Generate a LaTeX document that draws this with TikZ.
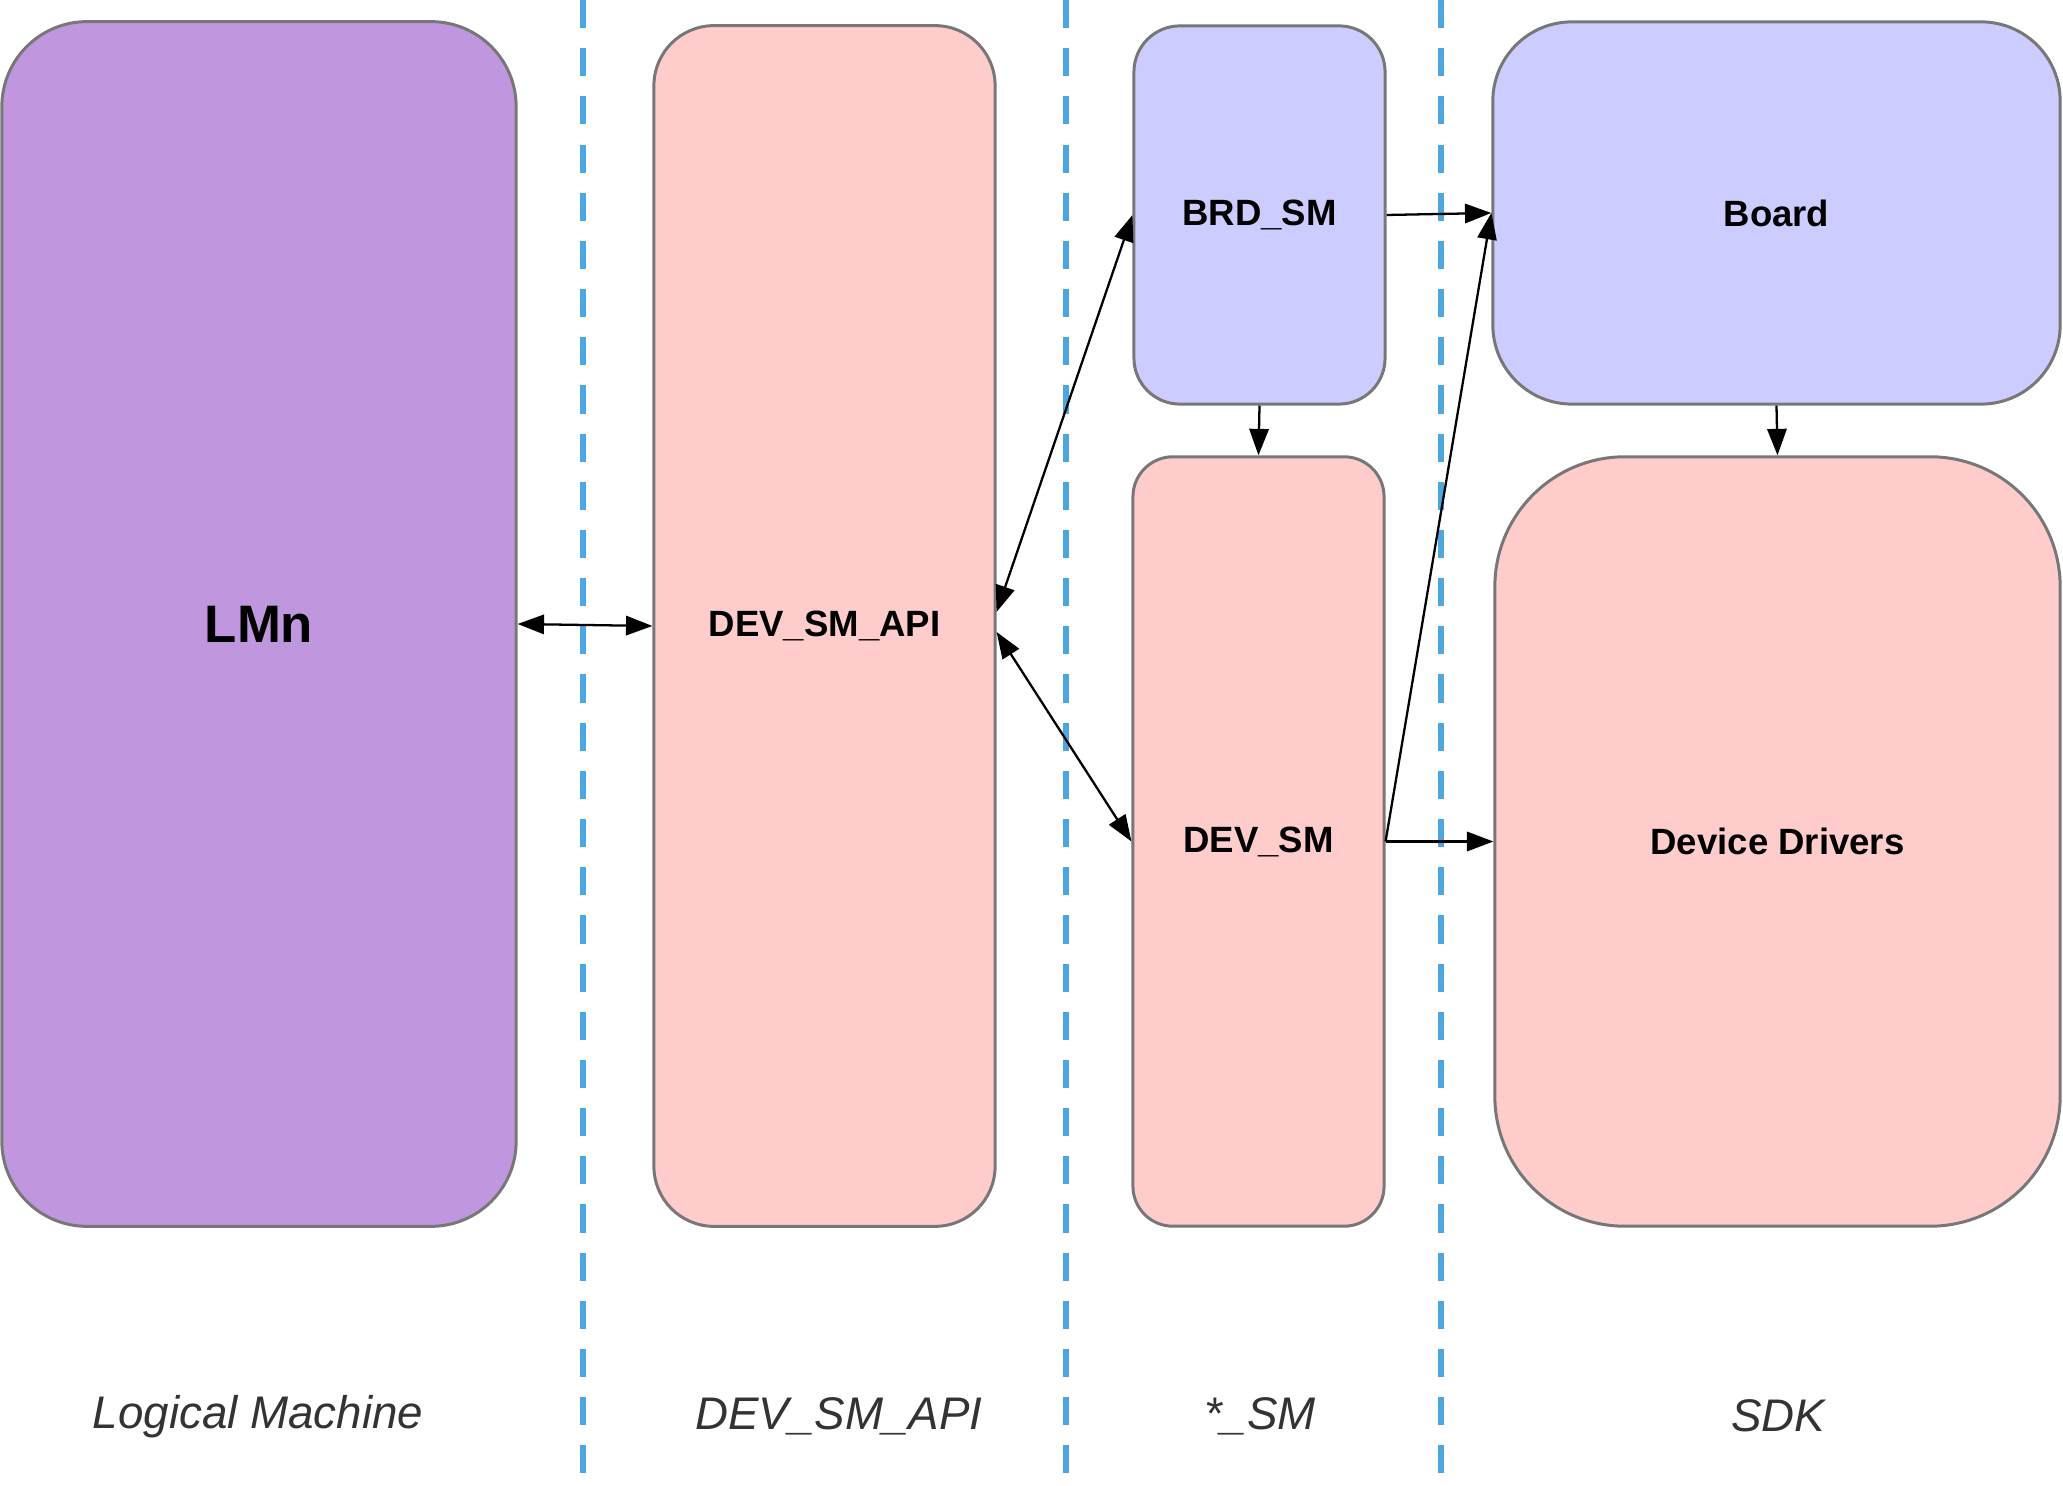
\documentclass[tikz,border=0pt]{standalone}
\usepackage{fontspec}
\setmainfont{Liberation Sans}
\usetikzlibrary{arrows.meta}
\definecolor{lmpurple}{RGB}{192,151,222}
\definecolor{smpink}{RGB}{255,204,204}
\definecolor{smblue}{RGB}{204,204,255}
\definecolor{edgegray}{RGB}{119,119,119}
\definecolor{sepblue}{RGB}{77,166,223}
\definecolor{labelgray}{RGB}{51,51,51}
\begin{document}
\begin{tikzpicture}[x=0.01cm, y=-0.01cm,
  block/.style={draw=edgegray, line width=0.85pt, shape=rectangle, inner sep=0pt,
    align=center, font=\bfseries\fontsize{10.4}{12}\selectfont},
  link/.style={line width=0.65pt, -{Triangle[length=7.5pt,width=5.5pt]}},
  both/.style={line width=0.65pt, {Triangle[length=7.5pt,width=5.5pt]}-{Triangle[length=7.5pt,width=5.5pt]}},
  sep/.style={sepblue, line width=1.6pt, dash pattern=on 8pt off 5.7pt},
  layer/.style={font=\itshape\fontsize{13}{15}\selectfont, text=labelgray}]
\useasboundingbox (0,0) rectangle (2063,1486);

% layer separators
\draw[sep] (583,0) -- (583,1486);
\draw[sep] (1066,0) -- (1066,1486);
\draw[sep] (1441,0) -- (1441,1486);

\node (lmn) [block, fill=lmpurple, minimum width=5.14cm, minimum height=12.04cm,
  rounded corners=0.85cm, font=\bfseries\fontsize{15}{18}\selectfont] at (259,624) {LMn};
\node (api) [block, fill=smpink, minimum width=3.41cm, minimum height=12.00cm,
  rounded corners=0.6cm] at (824.5,626) {DEV\_SM\_API};
\node (brdsm) [block, fill=smblue, minimum width=2.51cm, minimum height=3.78cm,
  rounded corners=0.46cm] at (1259.5,215) {BRD\_SM};
\node (devsm) [block, fill=smpink, minimum width=2.51cm, minimum height=7.69cm,
  rounded corners=0.4cm] at (1258.5,841.5) {DEV\_SM};
\node (board) [block, fill=smblue, minimum width=5.67cm, minimum height=3.82cm,
  rounded corners=0.79cm] at (1776.5,213) {Board};
\node (drivers) [block, fill=smpink, minimum width=5.65cm, minimum height=7.69cm,
  rounded corners=1.3cm] at (1777.5,841.5) {Device Drivers};

\node (lmlabel) [layer] at (258,1417) {Logical Machine};
\node (apilabel) [layer] at (839,1416) {DEV\_SM\_API};
\node (smlabel) [layer] at (1260,1416) {*\_SM};
\node (sdklabel) [layer] at (1778,1416) {SDK};

\draw[both] (lmn.east) -- (api.west);
\draw[both] ([yshift=0.14cm]api.east) -- (brdsm.west);
\draw[both] ([yshift=-0.06cm]api.east) -- (devsm.west);
\draw[link] (brdsm.east) -- (board.west);
\draw[link] (brdsm.south) -- (devsm.north);
\draw[link] (board.south) -- (drivers.north);
\draw[link] (devsm.east) -- (drivers.west);
\draw[link] (devsm.east) -- (board.west);

\end{tikzpicture}
\end{document}
